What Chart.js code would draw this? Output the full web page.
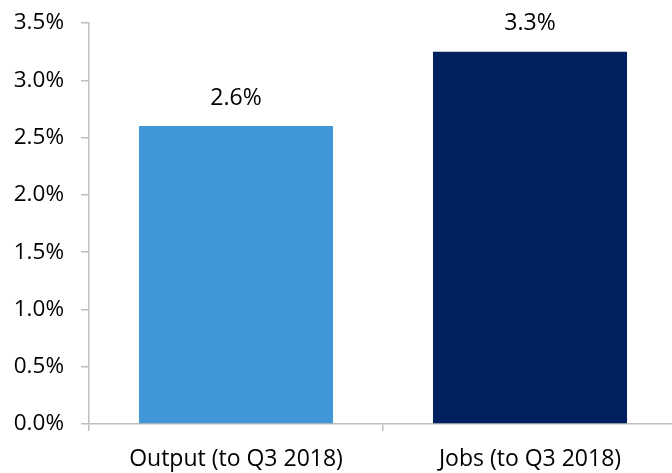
<!DOCTYPE html>
<html>
<head>
<meta charset="utf-8">
<script src="https://cdn.jsdelivr.net/npm/chart.js@4"></script>
<style>
  html, body { margin: 0; padding: 0; background: #fff; overflow: hidden; }
  #wrap { width: 680px; height: 473px; }
</style>
</head>
<body>
<div id="wrap"><canvas id="chart"></canvas></div>
<script>
var categories = ["Output (to Q3 2018)", "Jobs (to Q3 2018)"];
var growth = [2.6, 3.25];
var barColors = ["#4197D6", "#002060"];
var yTicks = [0, 0.5, 1.0, 1.5, 2.0, 2.5, 3.0, 3.5];

var FONT = "'Open Sans', 'Noto Sans', sans-serif";
var AXIS = "#BFBFBF";

// value labels above each bar
var barLabels = {
  id: "barLabels",
  afterDatasetsDraw: function (chart) {
    var ctx = chart.ctx;
    var meta = chart.getDatasetMeta(0);
    ctx.save();
    ctx.font = "23px " + FONT;
    ctx.fillStyle = "#000";
    ctx.textAlign = "center";
    ctx.textBaseline = "middle";
    meta.data.forEach(function (bar, i) {
      var v = chart.data.datasets[0].data[i];
      ctx.fillText(v.toFixed(1) + "%", bar.x, bar.y - 28);
    });
    ctx.restore();
  }
};

new Chart(document.getElementById("chart"), {
  type: "bar",
  data: {
    labels: categories,
    datasets: [{
      data: growth,
      backgroundColor: barColors,
      borderWidth: 0,
      categoryPercentage: 1,
      barPercentage: 0.66
    }]
  },
  options: {
    responsive: true,
    maintainAspectRatio: false,
    animation: false,
    layout: { padding: { top: 23, right: 3, left: 0, bottom: 0 } },
    plugins: { legend: { display: false }, tooltip: { enabled: false } },
    scales: {
      x: {
        grid: { display: true, drawOnChartArea: false, drawTicks: true, tickLength: 7, color: AXIS, lineWidth: 1.5 },
        border: { display: true, color: AXIS, width: 1.5 },
        ticks: { color: "#000", font: { family: FONT, size: 23 }, padding: 15, maxRotation: 0 },
        afterFit: function (scale) { scale.height = 49; }
      },
      y: {
        min: 0,
        max: 3.5,
        afterBuildTicks: function (scale) {
          scale.ticks = yTicks.map(function (v) { return { value: v }; });
        },
        grid: { display: true, drawOnChartArea: false, drawTicks: true, tickLength: 8, color: AXIS, lineWidth: 1.5 },
        border: { display: true, color: AXIS, width: 1.5 },
        ticks: {
          color: "#000",
          font: { family: FONT, size: 22.5 },
          padding: 17,
          callback: function (v) { return v.toFixed(1) + "%"; }
        },
        afterFit: function (scale) {
          scale.width = 89;
          // the tick padding would otherwise push the plot area down
          scale.paddingTop = 0;
          scale.paddingBottom = 0;
        }
      }
    }
  },
  plugins: [barLabels]
});
</script>
</body>
</html>
